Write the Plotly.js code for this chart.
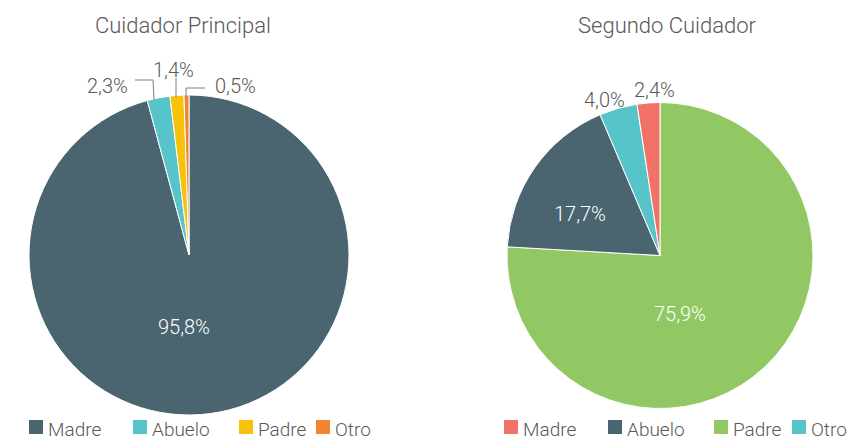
<!DOCTYPE html>
<html>
<head>
<meta charset="utf-8">
<script src="https://cdn.plot.ly/plotly-3.0.1.min.js"></script>
<style>html,body{margin:0;padding:0;background:#fff;}#chart{width:863px;height:442px;}</style>
</head>
<body>
<div id="chart"></div>
<script>
// ---- data ----
var categories = ['Madre', 'Abuelo', 'Padre', 'Otro'];
var principalValues = [95.8, 2.3, 1.4, 0.5];
var segundoValues = [2.4, 17.7, 75.9, 4.0];
var titles = ['Cuidador Principal', 'Segundo Cuidador'];

// ---- styles ----
var principalColors = ['#4A6570', '#56C4C9', '#F8C10C', '#F28432'];
var segundoColors = ['#F2726A', '#4A6570', '#92C863', '#56C4C9'];
var segundoSliceOrder = [2, 1, 3, 0]; // clockwise from 12 o'clock
var W = 863, H = 442;
var FONT = 'Roboto, sans-serif';
var GREY = '#595959';

function fmt(v, total) { return (v / total * 100).toFixed(1).replace('.', ',') + '%'; }
function sum(a) { return a.reduce(function (s, v) { return s + v; }, 0); }
function px(x) { return x / W; }
function py(y) { return 1 - y / H; }

var sL = sum(principalValues), sR = sum(segundoValues);

var traces = [
  {
    type: 'pie', labels: categories, values: principalValues, sort: false,
    direction: 'clockwise', rotation: 0, textinfo: 'none', hoverinfo: 'label+percent',
    marker: { colors: principalColors, line: { color: '#ffffff', width: 1 } },
    domain: { x: [px(29), px(349)], y: [py(415), py(95)] }, showlegend: false
  },
  {
    type: 'pie',
    labels: segundoSliceOrder.map(function (i) { return categories[i]; }),
    values: segundoSliceOrder.map(function (i) { return segundoValues[i]; }),
    sort: false, direction: 'clockwise', rotation: 0, textinfo: 'none', hoverinfo: 'label+percent',
    marker: { colors: segundoSliceOrder.map(function (i) { return segundoColors[i]; }), line: { color: '#ffffff', width: 1 } },
    domain: { x: [px(507), px(813)], y: [py(409), py(102)] }, showlegend: false
  }
];

var annotations = [], shapes = [];
function ann(x, y, text, size, color, xa) {
  annotations.push({ xref: 'paper', yref: 'paper', x: px(x), y: py(y), text: text, showarrow: false,
    xanchor: xa || 'center', yanchor: 'middle', font: { family: FONT, size: size, color: color, weight: 300 } });
}
function line(pts) {
  var d = pts.map(function (p, i) { return (i ? 'L' : 'M') + px(p[0]) + ',' + py(p[1]); }).join(' ');
  shapes.push({ type: 'path', xref: 'paper', yref: 'paper', path: d, line: { color: '#7f7f7f', width: 1 } });
}

// titles
ann(183, 25, titles[0], 22, GREY);
ann(667, 25, titles[1], 22, GREY);

// label positions (style): [x, y, color]
var principalLabelPos = [[184, 327, '#ffffff'], [107, 86, GREY], [173, 70, GREY], [235, 86, GREY]];
var segundoLabelPos = [[654, 90, GREY], [580, 214, '#ffffff'], [680, 314, '#ffffff'], [604, 100, GREY]];
principalValues.forEach(function (v, i) {
  var p = principalLabelPos[i]; ann(p[0], p[1], fmt(v, sL), 20, p[2]);
});
segundoValues.forEach(function (v, i) {
  var p = segundoLabelPos[i]; ann(p[0], p[1], fmt(v, sR), 20, p[2]);
});
// leader lines
line([[135, 80], [153, 80], [154, 100]]);
line([[176, 78], [176, 97]]);
line([[205, 88], [186, 88], [186, 97]]);

// legends
var legL = [29, 133, 239, 316], legR = [504, 608, 714, 792];
categories.forEach(function (c, i) {
  [[legL, principalColors], [legR, segundoColors]].forEach(function (g) {
    var x = g[0][i];
    shapes.push({ type: 'rect', xref: 'paper', yref: 'paper', x0: px(x), x1: px(x + 14), y0: py(434), y1: py(420),
      fillcolor: g[1][i], line: { width: 0 } });
    ann(x + 17, 429, c, 19, GREY, 'left');
  });
});

var layout = {
  width: W, height: H, margin: { l: 0, r: 0, t: 0, b: 0 },
  paper_bgcolor: '#ffffff', plot_bgcolor: '#ffffff', showlegend: false,
  font: { family: FONT, color: GREY }, annotations: annotations, shapes: shapes
};
Plotly.newPlot('chart', traces, layout, { displayModeBar: false, staticPlot: true });
</script>
</body>
</html>
